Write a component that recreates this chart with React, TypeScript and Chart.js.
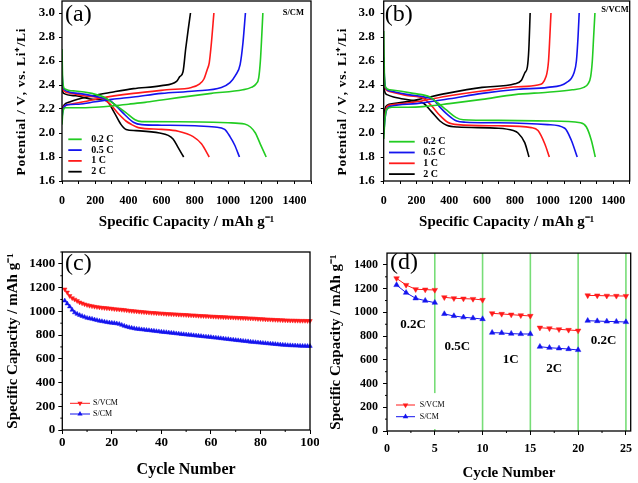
import React, { useEffect, useRef } from 'react';
import { Chart, registerables } from 'chart.js';

Chart.register(...registerables);

type Pt = [number, number];

const SERIF = '"Liberation Serif", "Times New Roman", Times, serif';
const GREEN = '#22cc22';
const BLUE = '#1414ee';
const RED = '#ff1a1a';
const BLACK = '#000000';
const VLINE = '#77dd77';

// ---------- (a) S/CM : capacity (mAh/g), potential (V) ----------
const scm02Charge: Pt[] = [[0,2.07],[5,2.17],[20,2.21],[100,2.21],[200,2.215],[300,2.225],[400,2.24],[500,2.255],[600,2.275],[700,2.295],[900,2.33],[1090,2.36],[1140,2.38],[1170,2.41],[1185,2.46],[1195,2.6],[1203,2.8],[1210,3.0]];
const scm02Discharge: Pt[] = [[0,2.7],[4,2.45],[15,2.37],[80,2.35],[180,2.33],[265,2.29],[305,2.25],[385,2.17],[440,2.11],[480,2.095],[700,2.094],[1000,2.085],[1100,2.075],[1135,2.05],[1165,2.0],[1194,1.91],[1230,1.8]];
const scm05Charge: Pt[] = [[0,2.13],[8,2.2],[30,2.235],[100,2.24],[200,2.26],[300,2.28],[430,2.30],[600,2.33],[800,2.35],[960,2.38],[1012,2.42],[1045,2.48],[1073,2.57],[1090,2.75],[1105,3.0]];
const scm05Discharge: Pt[] = [[0,2.52],[5,2.4],[15,2.36],[100,2.33],[200,2.305],[290,2.27],[330,2.22],[380,2.15],[430,2.09],[480,2.07],[600,2.065],[800,2.06],[920,2.05],[980,2.03],[1012,1.97],[1040,1.9],[1069,1.8]];
const scm1Charge: Pt[] = [[0,2.18],[10,2.22],[50,2.24],[130,2.26],[230,2.29],[430,2.33],[630,2.36],[780,2.38],[830,2.41],[855,2.45],[875,2.53],[887,2.585],[900,2.75],[915,3.0]];
const scm1Discharge: Pt[] = [[0,2.39],[10,2.35],[60,2.33],[130,2.31],[240,2.29],[290,2.24],[340,2.16],[385,2.10],[420,2.07],[460,2.045],[600,2.03],[700,2.015],[790,1.97],[840,1.91],[887,1.8]];
const scm2Charge: Pt[] = [[0,2.2],[10,2.23],[50,2.26],[184,2.31],[300,2.34],[430,2.37],[600,2.395],[690,2.43],[710,2.47],[729,2.51],[745,2.7],[760,2.86],[774,3.0]];
const scm2Discharge: Pt[] = [[0,2.36],[10,2.33],[83,2.31],[184,2.28],[265,2.27],[315,2.17],[356,2.07],[386,2.03],[446,2.02],[588,2.0],[640,1.98],[669,1.95],[699,1.88],[733,1.8]];

// ---------- (b) S/VCM ----------
const svcm02Charge: Pt[] = [[0,1.95],[8,2.12],[20,2.2],[50,2.215],[150,2.215],[240,2.22],[400,2.245],[600,2.28],[800,2.32],[1000,2.34],[1150,2.36],[1220,2.38],[1246,2.41],[1262,2.47],[1272,2.6],[1280,2.8],[1288,3.0]];
const svcm02Discharge: Pt[] = [[0,2.85],[4,2.5],[12,2.38],[38,2.36],[180,2.33],[282,2.30],[330,2.25],[384,2.19],[440,2.13],[485,2.11],[700,2.105],[1000,2.1],[1200,2.085],[1236,2.05],[1266,1.94],[1290,1.8]];
const svcm05Charge: Pt[] = [[0,1.99],[8,2.12],[20,2.2],[50,2.225],[200,2.245],[400,2.285],[600,2.33],[820,2.365],[1000,2.38],[1114,2.42],[1160,2.5],[1175,2.6],[1185,2.8],[1192,3.0]];
const svcm05Discharge: Pt[] = [[0,2.63],[5,2.45],[15,2.37],[40,2.35],[150,2.32],[250,2.3],[302,2.28],[340,2.22],[384,2.16],[445,2.1],[500,2.09],[700,2.085],[1000,2.07],[1104,2.04],[1144,1.94],[1180,1.8]];
const svcm1Charge: Pt[] = [[0,2.05],[8,2.15],[20,2.22],[50,2.235],[200,2.26],[400,2.31],[600,2.35],[820,2.385],[940,2.40],[990,2.47],[1005,2.6],[1013,2.8],[1020,3.0]];
const svcm1Discharge: Pt[] = [[0,2.6],[5,2.42],[15,2.36],[40,2.345],[150,2.31],[241,2.29],[290,2.23],[340,2.15],[390,2.09],[450,2.07],[700,2.06],[900,2.045],[941,2.02],[982,1.91],[1010,1.8]];
const svcm2Charge: Pt[] = [[0,2.1],[8,2.2],[20,2.23],[60,2.245],[180,2.27],[384,2.33],[600,2.38],[800,2.41],[840,2.44],[860,2.5],[876,2.55],[885,2.7],[893,3.0]];
const svcm2Discharge: Pt[] = [[0,2.45],[5,2.35],[20,2.32],[60,2.3],[180,2.27],[241,2.25],[290,2.18],[343,2.1],[384,2.065],[450,2.05],[700,2.04],[790,2.02],[819,2.0],[860,1.92],[886,1.8]];

const rateLabels = ['0.2 C', '0.5 C', '1 C', '2 C'];
const rateColors = [GREEN, BLUE, RED, BLACK];

// ---------- (c) cycling, capacity per cycle 1..100 ----------
const cycVCM: number[] = [
  1186,1160,1130,1112,1100,1088,1076,1068,1060,1054,
  1048,1044,1040,1037,1034,1031,1029,1027,1025,1023,
  1020,1018,1016,1014,1012,1009,1006,1004,1002,1000,
  998,996,994,992,990,988,987,985,984,982,
  981,979,978,977,976,975,973,972,971,970,
  968,967,966,965,963,962,961,960,959,957,
  956,955,954,953,952,951,950,949,948,947,
  946,945,944,943,942,941,940,939,937,936,
  935,933,932,931,930,929,928,927,926,925,
  924,923,923,922,922,921,921,921,920,920
];
const cycCM: number[] = [
  1090,1065,1040,1012,990,978,968,960,952,944,
  940,936,930,925,920,916,912,908,905,902,
  900,897,893,885,877,870,865,860,856,852,
  850,847,845,842,840,837,835,832,830,827,
  825,823,820,818,816,813,811,808,806,804,
  802,800,797,795,793,791,788,786,784,782,
  779,777,775,772,770,767,765,762,760,757,
  755,753,750,748,746,743,741,739,737,735,
  733,731,729,727,725,723,721,719,717,716,
  714,713,712,711,710,709,708,708,707,707
];

// ---------- (d) rate capability, cycles 1..25 ----------
const rateVCM: number[] = [1287,1231,1195,1192,1189, 1127,1119,1116,1113,1105, 992,987,981,975,970, 871,865,857,852,846, 1143,1142,1140,1139,1138];
const rateCM: number[] = [1231,1166,1119,1099,1082, 987,970,959,952,944, 829,827,821,818,818, 711,702,697,691,683, 930,927,924,922,919];
const rateSteps = ['0.2C', '0.5C', '1C', '2C', '0.2C'];
const rateStepPos: Pt[] = [[2.73, 894], [7.36, 711], [12.94, 604], [17.49, 525], [22.66, 761]];
const rateBoundaries = [5, 10, 15, 20, 25];

// ---------- drawing helpers ----------
function drawTri(ctx: CanvasRenderingContext2D, x: number, y: number, r: number, rot: number, color: string) {
  let rad = rot;
  ctx.beginPath();
  ctx.moveTo(x + Math.sin(rad) * r, y - Math.cos(rad) * r);
  rad += (2 * Math.PI) / 3;
  ctx.lineTo(x + Math.sin(rad) * r, y - Math.cos(rad) * r);
  rad += (2 * Math.PI) / 3;
  ctx.lineTo(x + Math.sin(rad) * r, y - Math.cos(rad) * r);
  ctx.closePath();
  ctx.fillStyle = color;
  ctx.fill();
}

interface TextItem { text: string; font: string; x: number; y: number; mode: 'tl' | 'tr' | 'data'; align: CanvasTextAlign; }
interface LegendCfg {
  dx: number; dy: number; rowH: number; len: number; textDx: number; lineW: number; font: string; r?: number;
  bg?: [number, number, number, number];
  items: { label: string; color: string; marker?: 'up' | 'down' }[];
}
interface VTitle { text: string; font: string; x: number; y: number; length: number; }
interface Deco {
  frameW: number;
  minorX?: number[]; minorY?: number[]; minorLen?: number;
  vlines?: number[];
  texts?: TextItem[];
  legend?: LegendCfg;
  vTitle?: VTitle;
}

function makeDeco(d: Deco) {
  return {
    id: 'deco',
    beforeDatasetsDraw(chart: any) {
      const { ctx, chartArea: a, scales } = chart;
      if (d.vlines) {
        ctx.save();
        ctx.strokeStyle = VLINE;
        ctx.lineWidth = 1.6;
        for (const v of d.vlines) {
          const x = scales.x.getPixelForValue(v);
          ctx.beginPath();
          ctx.moveTo(x, a.top);
          ctx.lineTo(x, a.bottom);
          ctx.stroke();
        }
        ctx.restore();
      }
    },
    afterDatasetsDraw(chart: any) {
      const { ctx, chartArea: a, scales } = chart;
      ctx.save();
      const L = d.legend;
      if (L) {
        if (L.bg) {
          ctx.fillStyle = '#ffffff';
          ctx.fillRect(a.left + L.bg[0], a.top + L.bg[1], L.bg[2], L.bg[3]);
        }
        ctx.font = L.font;
        L.items.forEach((it, i) => {
          const y = a.top + L.dy + i * L.rowH;
          const x0 = a.left + L.dx;
          ctx.strokeStyle = it.color;
          ctx.lineWidth = L.lineW;
          ctx.beginPath();
          ctx.moveTo(x0, y);
          ctx.lineTo(x0 + L.len, y);
          ctx.stroke();
          if (it.marker) drawTri(ctx, x0 + L.len / 2, y, L.r || 3, it.marker === 'down' ? Math.PI : 0, it.color);
          ctx.fillStyle = '#000';
          ctx.textAlign = 'left';
          ctx.textBaseline = 'middle';
          ctx.fillText(it.label, x0 + L.textDx, y);
        });
      }
      for (const t of d.texts || []) {
        ctx.font = t.font;
        ctx.fillStyle = '#000';
        ctx.textAlign = t.align;
        ctx.textBaseline = 'middle';
        let x = 0, y = 0;
        if (t.mode === 'tl') { x = a.left + t.x; y = a.top + t.y; }
        else if (t.mode === 'tr') { x = a.right + t.x; y = a.top + t.y; }
        else { x = scales.x.getPixelForValue(t.x); y = scales.y.getPixelForValue(t.y); }
        ctx.fillText(t.text, x, y);
      }
      if (d.vTitle) {
        const t = d.vTitle;
        ctx.save();
        ctx.translate(t.x, t.y);
        ctx.rotate(-Math.PI / 2);
        ctx.font = t.font;
        ctx.fillStyle = '#000';
        ctx.textAlign = 'left';
        ctx.textBaseline = 'middle';
        const chars = Array.from(t.text);
        const widths = chars.map((c) => ctx.measureText(c).width);
        const natural = widths.reduce((s, w) => s + w, 0);
        const gap = (t.length - natural) / (chars.length - 1);
        let x = -t.length / 2;
        chars.forEach((c, i) => { ctx.fillText(c, x, 0); x += widths[i] + gap; });
        ctx.restore();
      }
      ctx.strokeStyle = '#000';
      ctx.lineWidth = 1;
      const ml = d.minorLen || 2;
      for (const v of d.minorX || []) {
        const x = scales.x.getPixelForValue(v);
        ctx.beginPath(); ctx.moveTo(x, a.bottom); ctx.lineTo(x, a.bottom + ml); ctx.stroke();
      }
      for (const v of d.minorY || []) {
        const y = scales.y.getPixelForValue(v);
        ctx.beginPath(); ctx.moveTo(a.left, y); ctx.lineTo(a.left - ml, y); ctx.stroke();
      }
      ctx.lineWidth = d.frameW;
      ctx.strokeRect(a.left, a.top, a.right - a.left, a.bottom - a.top);
      ctx.restore();
    },
  };
}

const font = (size: number, weight: string = 'bold') => ({ family: SERIF, size, weight });

interface AxisGeom {
  yWidth: number; xHeight: number;
  padding: { left: number; right: number; top: number; bottom: number };
  yTitlePad: number; xTitlePad: number; yTickPad: number; xTickPad: number;
  yTickSize: number; xTickSize: number; yTitleSize: number; xTitleSize: number;
  tickLen: number; yTitleShown: boolean;
}

const zeroPad = (s: any) => { s.paddingTop = 0; s.paddingBottom = 0; s.paddingLeft = 0; s.paddingRight = 0; };

function axisX(g: AxisGeom, min: number, max: number, step: number, title: string, cb: (v: number) => string) {
  return {
    type: 'linear', min, max,
    border: { display: false },
    grid: { drawOnChartArea: false, drawTicks: true, tickLength: g.tickLen, tickColor: '#000', tickWidth: 1 },
    ticks: { stepSize: step, includeBounds: false, autoSkip: false, maxRotation: 0, color: '#000', font: font(g.xTickSize), padding: g.xTickPad, callback: (v: any) => cb(Number(v)) },
    title: { display: true, text: title, color: '#000', font: font(g.xTitleSize), padding: { top: 0, bottom: g.xTitlePad } },
    afterFit: (s: any) => { s.height = g.xHeight; zeroPad(s); },
  };
}
function axisY(g: AxisGeom, min: number, max: number, step: number, title: string, cb: (v: number) => string) {
  return {
    type: 'linear', min, max,
    border: { display: false },
    grid: { drawOnChartArea: false, drawTicks: true, tickLength: g.tickLen, tickColor: '#000', tickWidth: 1 },
    ticks: { stepSize: step, includeBounds: false, autoSkip: false, color: '#000', font: font(g.yTickSize), padding: g.yTickPad, callback: (v: any) => cb(Number(v)) },
    title: { display: g.yTitleShown, text: title, color: '#000', font: font(g.yTitleSize), padding: { top: g.yTitlePad, bottom: 0 } },
    afterFit: (s: any) => { s.width = g.yWidth; zeroPad(s); },
  };
}

const toXY = (pts: Pt[]) => pts.map(([x, y]) => ({ x, y }));

const POTENTIAL_TITLE = 'Potential / V, vs. Li\u207A/Li';

function voltageConfig(curves: Pt[][][], g: AxisGeom, deco: Deco) {
  const datasets: any[] = [];
  curves.forEach((pair, i) => {
    pair.forEach((pts) => {
      datasets.push({
        data: toXY(pts), borderColor: rateColors[i], backgroundColor: rateColors[i], borderWidth: 1.6,
        pointRadius: 0, showLine: true, cubicInterpolationMode: 'monotone', fill: false,
      });
    });
  });
  return {
    type: 'scatter',
    data: { datasets },
    options: {
      animation: false, responsive: false, maintainAspectRatio: false,
      layout: { padding: g.padding },
      plugins: { legend: { display: false }, tooltip: { enabled: false } },
      scales: {
        x: axisX(g, 0, 1500, 100, 'Specific Capacity / mAh g\u207B\u00B9', (v) => (v % 200 === 0 ? String(v) : '')),
        y: axisY(g, 1.6, 3.1, 0.2, POTENTIAL_TITLE, (v) => v.toFixed(1)),
      },
    },
    plugins: [makeDeco(deco)],
  };
}

function cycleConfig(xs: number[], series: { data: number[]; color: string; rot: number; label: string }[], g: AxisGeom, xMax: number, xStep: number, r: number, breakEvery: number, deco: Deco) {
  return {
    type: 'scatter',
    data: {
      datasets: series.map((s) => ({
        label: s.label,
        data: xs.map((x, i) => ({ x, y: s.data[i] })),
        borderColor: s.color, backgroundColor: s.color, borderWidth: 1,
        pointStyle: 'triangle', pointRotation: s.rot, pointRadius: r, pointBorderWidth: 0.5,
        pointBackgroundColor: s.color, pointBorderColor: s.color,
        showLine: true, clip: false,
        segment: breakEvery > 0 ? { borderColor: (ctx: any) => (ctx.p0.parsed.x % breakEvery === 0 ? 'rgba(0,0,0,0)' : undefined) } : undefined,
      })),
    },
    options: {
      animation: false, responsive: false, maintainAspectRatio: false,
      layout: { padding: g.padding },
      plugins: { legend: { display: false }, tooltip: { enabled: false } },
      scales: {
        x: axisX(g, 0, xMax, xStep, 'Cycle Number', (v) => String(v)),
        y: axisY(g, 0, 1500, 200, 'Specific Capacity / mAh g\u207B\u00B9', (v) => String(v)),
      },
    },
    plugins: [makeDeco(deco)],
  };
}

// ---------- panel geometry ----------
const geomA: AxisGeom = { yWidth: 62, xHeight: 59, padding: { left: 0, right: 8, top: 1, bottom: 0 }, yTitlePad: 14, xTitlePad: 9, yTickPad: 4, xTickPad: 10, yTickSize: 13, xTickSize: 12, yTitleSize: 13, xTitleSize: 15, tickLen: 3, yTitleShown: false };
const geomB: AxisGeom = { ...geomA, yWidth: 64.7, padding: { left: 0, right: 8.3, top: 1, bottom: 0 }, yTitlePad: 16, yTickPad: 6 };
const geomC: AxisGeom = { yWidth: 62.3, xHeight: 53, padding: { left: 0, right: 9, top: 12, bottom: 0 }, yTitlePad: 4, xTitlePad: 3.4, yTickPad: 3, xTickPad: 1, yTickSize: 13, xTickSize: 13, yTitleSize: 15, xTitleSize: 16, tickLen: 4, yTitleShown: true };
const geomD: AxisGeom = { yWidth: 68, xHeight: 52, padding: { left: 0, right: 7.3, top: 13.1, bottom: 0 }, yTitlePad: 8, xTitlePad: 1, yTickPad: 5, xTickPad: 7, yTickSize: 12, xTickSize: 12, yTitleSize: 15, xTitleSize: 15, tickLen: 4, yTitleShown: true };

const voltLegend = (dx: number, dy: number, rowH: number, len: number, textDx: number): LegendCfg => ({
  dx, dy, rowH, len, textDx, lineW: 1.8, font: `bold 10px ${SERIF}`,
  items: rateLabels.map((label, i) => ({ label, color: rateColors[i] })),
});

const minorY200 = [100, 300, 500, 700, 900, 1100, 1300];

function ChartPanel({ left, top, width, height, config }: { left: number; top: number; width: number; height: number; config: any }) {
  const ref = useRef<HTMLCanvasElement>(null);
  useEffect(() => {
    const chart = new Chart(ref.current as HTMLCanvasElement, config);
    return () => chart.destroy();
  }, []);
  return <canvas ref={ref} width={width} height={height} style={{ position: 'absolute', left, top, width, height }} />;
}

export default function App() {
  const cfgA = voltageConfig(
    [[scm02Charge, scm02Discharge], [scm05Charge, scm05Discharge], [scm1Charge, scm1Discharge], [scm2Charge, scm2Discharge]],
    geomA,
    {
      frameW: 1.3,
      legend: voltLegend(6.3, 138.3, 10.8, 13.4, 23),
      vTitle: { text: POTENTIAL_TITLE, font: `bold 13.5px ${SERIF}`, x: 21.7, y: 102, length: 147 },
      texts: [
        { text: '(a)', font: `24px ${SERIF}`, x: 3, y: 14, mode: 'tl', align: 'left' },
        { text: 'S/CM', font: `bold 8.5px ${SERIF}`, x: -7, y: 11.7, mode: 'tr', align: 'right' },
      ],
    }
  );
  const cfgB = voltageConfig(
    [[svcm02Charge, svcm02Discharge], [svcm05Charge, svcm05Discharge], [svcm1Charge, svcm1Discharge], [svcm2Charge, svcm2Discharge]],
    geomB,
    {
      frameW: 1.3,
      legend: voltLegend(5.3, 140.7, 10.8, 25.7, 34.3),
      vTitle: { text: POTENTIAL_TITLE, font: `bold 13.5px ${SERIF}`, x: 24, y: 102, length: 147 },
      texts: [
        { text: '(b)', font: `24px ${SERIF}`, x: 1, y: 14, mode: 'tl', align: 'left' },
        { text: 'S/VCM', font: `bold 8.5px ${SERIF}`, x: -1, y: 9, mode: 'tr', align: 'right' },
      ],
    }
  );
  const cycles100 = cycVCM.map((_, i) => i + 1);
  const cfgC = cycleConfig(
    cycles100,
    [
      { data: cycVCM, color: RED, rot: 180, label: 'S/VCM' },
      { data: cycCM, color: BLUE, rot: 0, label: 'S/CM' },
    ],
    geomC, 100, 20, 2.6, 0,
    {
      frameW: 1.3,
      minorX: [10, 30, 50, 70, 90],
      minorY: [...minorY200, 1500],
      minorLen: 2,
      legend: {
        dx: 7.7, dy: 151.3, rowH: 10.7, len: 20, textDx: 23, lineW: 1, r: 3, font: `8px ${SERIF}`,
        items: [{ label: 'S/VCM', color: RED, marker: 'down' }, { label: 'S/CM', color: BLUE, marker: 'up' }],
      },
      texts: [{ text: '(c)', font: `24px ${SERIF}`, x: 2.7, y: 12, mode: 'tl', align: 'left' }],
    }
  );
  const cycles25 = rateVCM.map((_, i) => i + 1);
  const cfgD = cycleConfig(
    cycles25,
    [
      { data: rateVCM, color: RED, rot: 180, label: 'S/VCM' },
      { data: rateCM, color: BLUE, rot: 0, label: 'S/CM' },
    ],
    geomD, 25.5, 5, 3.2, 5,
    {
      frameW: 1.3,
      vlines: rateBoundaries,
      minorX: [2.5, 7.5, 12.5, 17.5, 22.5],
      minorY: [...minorY200],
      minorLen: 2,
      legend: {
        dx: 9, dy: 151.9, rowH: 11.7, len: 19, textDx: 23.7, lineW: 1, r: 3.2, font: `8px ${SERIF}`,
        bg: [4, 140, 58, 36],
        items: [{ label: 'S/VCM', color: RED, marker: 'down' }, { label: 'S/CM', color: BLUE, marker: 'up' }],
      },
      texts: [
        { text: '(d)', font: `24px ${SERIF}`, x: 3, y: 10, mode: 'tl', align: 'left' },
        ...rateSteps.map((s, i) => ({ text: s, font: `bold 13px ${SERIF}`, x: rateStepPos[i][0], y: rateStepPos[i][1], mode: 'data' as const, align: 'center' as CanvasTextAlign })),
      ],
    }
  );

  return (
    <div style={{ position: 'absolute', left: 0, top: 0, width: 638, height: 483, background: '#fff' }}>
      <ChartPanel left={0} top={0} width={319} height={240} config={cfgA} />
      <ChartPanel left={319} top={0} width={319} height={240} config={cfgB} />
      <ChartPanel left={0} top={240} width={319} height={243} config={cfgC} />
      <ChartPanel left={319} top={240} width={319} height={243} config={cfgD} />
    </div>
  );
}
